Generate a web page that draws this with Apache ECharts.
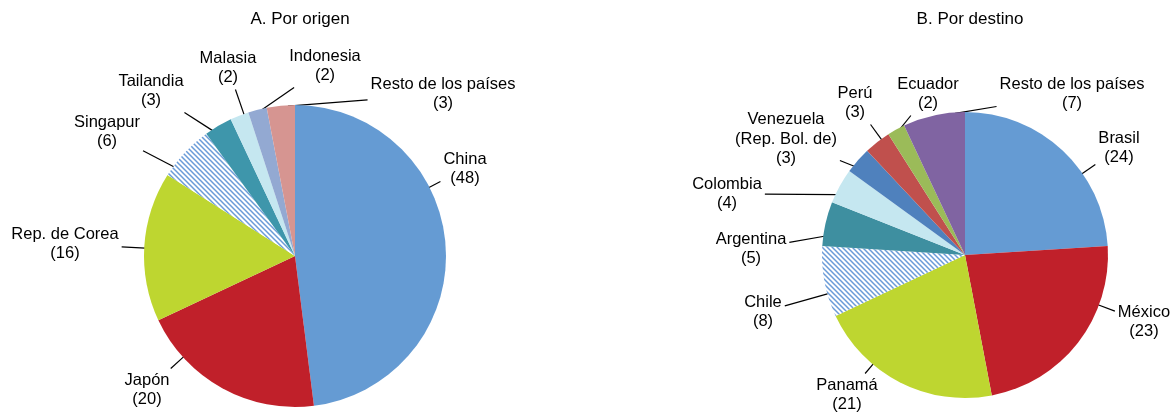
<!DOCTYPE html>
<html>
<head>
<meta charset="utf-8">
<script src="https://cdn.jsdelivr.net/npm/echarts@6/dist/echarts.min.js"></script>
<style>
  html, body { margin: 0; padding: 0; background: #fff; }
  #chart { width: 1175px; height: 413px; }
</style>
</head>
<body>
<div id="chart"></div>
<script>
// datos: A. por origen
var origenNombres = ["China", "Japón", "Rep. de Corea", "Singapur", "Tailandia", "Malasia", "Indonesia", "Resto de los países"];
var origenValores = [48, 20, 16, 6, 3, 2, 2, 3];
// datos: B. por destino
var destinoNombres = ["Brasil", "México", "Panamá", "Chile", "Argentina", "Colombia", "Venezuela\n(Rep. Bol. de)", "Perú", "Ecuador", "Resto de los países"];
var destinoValores = [24, 23, 21, 8, 5, 4, 3, 3, 2, 7];

// ubicacion de las etiquetas (centro del texto, px)
var posEtiqOrigen = [[465, 169], [147, 390], [65, 244], [107, 132], [151, 91], [228, 68], [325, 66], [443, 94]];
var posEtiqDestino = [[1119, 148], [1144, 322], [847, 395], [763, 312], [751, 249], [727, 194], [786, 139], [855, 103], [928, 94], [1072, 94]];

// geometria de cada torta
var centroOrigen = [295, 256], radioOrigen = 151;
var centroDestino = [965, 255], radioDestino = 143;

// trama rayada (Singapur / Chile)
function rayado() {
  var c = document.createElement("canvas");
  c.width = 5; c.height = 5;
  var g = c.getContext("2d");
  g.fillStyle = "#fff";
  g.fillRect(0, 0, 5, 5);
  g.strokeStyle = "#6a9bd8";
  g.lineWidth = 1.5;
  g.beginPath();
  g.moveTo(-1, -1); g.lineTo(6, 6);
  g.moveTo(-1, 4); g.lineTo(1, 6);
  g.moveTo(4, -1); g.lineTo(6, 1);
  g.stroke();
  return { image: c, repeat: "repeat" };
}
var trama = rayado();

var coloresOrigen = ["#659bd3", "#c0202a", "#bed630", trama, "#3e96ab", "#c5e7f0", "#93a9d2", "#d69591"];
var coloresDestino = ["#659bd3", "#c0202a", "#bed630", trama, "#3e8fa0", "#c5e7f0", "#4f81bd", "#c0504d", "#9bbb59", "#8064a2"];

var fuente = "Liberation Sans, Arial, sans-serif";

function armar(nombres, valores, colores) {
  return nombres.map(function (n, i) {
    return { name: n, value: valores[i], itemStyle: { color: colores[i] } };
  });
}

function etiqueta(p) {
  var lineas = p.name.split("\n");
  lineas.push("(" + p.value + ")");
  return lineas.map(function (l) { return "{c|" + l + "}"; }).join("\n");
}

// angulos (grados, sentido horario desde arriba) de cada porcion
function angulos(valores) {
  var tot = valores.reduce(function (a, b) { return a + b; }, 0);
  var acc = 0;
  return valores.map(function (v) {
    var a0 = acc / tot * 360;
    acc += v;
    return [a0, acc / tot * 360];
  });
}

function difAng(a, b) {
  var d = ((a - b) % 360 + 540) % 360 - 180;
  return Math.abs(d);
}

function ubicar(pos, valores, centro, radio) {
  var angs = angulos(valores);
  return function (params) {
    var p = pos[params.dataIndex];
    var w = params.labelRect.width, h = params.labelRect.height;
    var rng = angs[params.dataIndex];
    var m = Math.min(4, (rng[1] - rng[0]) / 4);
    var th = Math.atan2(p[0] - centro[0], -(p[1] - centro[1])) * 180 / Math.PI;
    th = (th + 360) % 360;
    var lo = rng[0] + m, hi = rng[1] - m;
    var dentro = th >= lo && th <= hi;
    if (!dentro) th = difAng(th, lo) < difAng(th, hi) ? lo : hi;
    var t = th * Math.PI / 180;
    var ex = centro[0] + (radio - 1) * Math.sin(t);
    var ey = centro[1] - (radio - 1) * Math.cos(t);
    // punto de salida desde el borde del texto
    var dx = ex - p[0], dy = ey - p[1];
    var k = Math.min((w / 2 + 3) / Math.max(Math.abs(dx), 1e-6), (h / 2 + 2) / Math.max(Math.abs(dy), 1e-6));
    var sx = p[0] + dx * k, sy = p[1] + dy * k;
    return {
      x: p[0], y: p[1], align: "center", verticalAlign: "middle",
      labelLinePoints: [[sx, sy], [ex, ey]]
    };
  };
}

var labelComun = {
  show: true,
  position: "outside",
  formatter: etiqueta,
  color: "#000",
  fontFamily: fuente,
  fontSize: 16.5,
  lineHeight: 19.5,
  rich: { c: { align: "center", fontSize: 16.5, lineHeight: 19.5, color: "#000", fontFamily: fuente } }
};
var lineaComun = { show: true, length: 10, length2: 0, lineStyle: { color: "#000", width: 1.2 } };

var chartObj = echarts.init(document.getElementById("chart"));
var option = {
  animation: false,
  title: [
    { text: "A. Por origen", left: 295, top: 6, textAlign: "center",
      textStyle: { fontSize: 17, fontWeight: "normal", color: "#000", fontFamily: fuente } },
    { text: "B. Por destino", left: 965, top: 6, textAlign: "center",
      textStyle: { fontSize: 17, fontWeight: "normal", color: "#000", fontFamily: fuente } }
  ],
  series: [
    {
      type: "pie",
      center: centroOrigen,
      radius: [0, radioOrigen],
      startAngle: 90,
      clockwise: true,
      avoidLabelOverlap: false,
      label: labelComun,
      labelLine: lineaComun,
      labelLayout: ubicar(posEtiqOrigen, origenValores, centroOrigen, radioOrigen),
      itemStyle: { borderWidth: 0 },
      data: armar(origenNombres, origenValores, coloresOrigen)
    },
    {
      type: "pie",
      center: centroDestino,
      radius: [0, radioDestino],
      startAngle: 90,
      clockwise: true,
      avoidLabelOverlap: false,
      label: labelComun,
      labelLine: lineaComun,
      labelLayout: ubicar(posEtiqDestino, destinoValores, centroDestino, radioDestino),
      itemStyle: { borderWidth: 0 },
      data: armar(destinoNombres, destinoValores, coloresDestino)
    }
  ]
};
chartObj.setOption(option);
</script>
</body>
</html>
